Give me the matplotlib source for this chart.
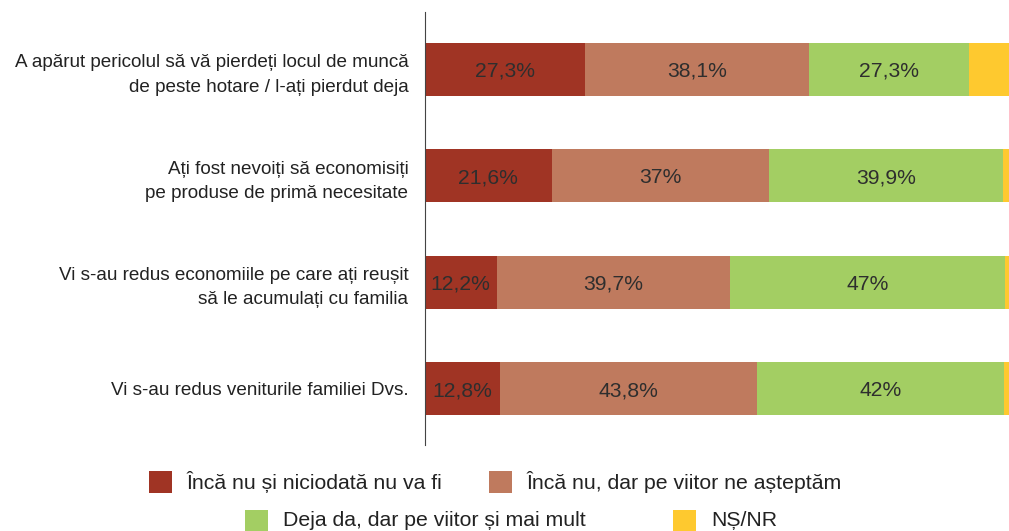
import matplotlib.pyplot as plt
from matplotlib.patches import Rectangle

plt.rcParams['font.family'] = ['Liberation Sans', 'DejaVu Sans']

# categories (top to bottom)
categories = [
    "A apărut pericolul să vă pierdeți locul de muncă\nde peste hotare / l-ați pierdut deja",
    "Ați fost nevoiți să economisiți\npe produse de primă necesitate",
    "Vi s-au redus economiile pe care ați reușit\nsă le acumulați cu familia",
    "Vi s-au redus veniturile familiei Dvs.",
]
series_names = [
    "Încă nu și niciodată nu va fi",
    "Încă nu, dar pe viitor ne așteptăm",
    "Deja da, dar pe viitor și mai mult",
    "NȘ/NR",
]
never = [27.3, 21.6, 12.2, 12.8]
not_yet = [38.1, 37.0, 39.7, 43.8]
already = [27.3, 39.9, 47.0, 42.0]
dk = [7.3, 1.5, 1.1, 1.4]
colors = ["#A03424", "#BF7A5E", "#A3CE63", "#FEC92F"]

W, H = 1009, 531
fig = plt.figure(figsize=(W / 100, H / 100), dpi=100)
ax = fig.add_axes([425 / W, 1 - 445 / H, 1 - 425 / W, (445 - 12) / H])

y = list(range(len(categories)))
left = [0.0] * len(categories)
for vals, col, name in zip([never, not_yet, already, dk], colors, series_names):
    ax.barh(y, vals, left=left, height=0.5, color=col, label=name)
    if name != "NȘ/NR":
        for i, v in enumerate(vals):
            txt = ("%.1f" % v).replace(".", ",")
            if txt.endswith(",0"):
                txt = txt[:-2]
            ax.text(left[i] + v / 2, i, txt + "%", ha="center",
                    va="center_baseline", fontsize=15.2, color="#2e2e2e")
    left = [l + v for l, v in zip(left, vals)]

ax.set_xlim(0, 99.5)
ax.set_ylim(3.53, -0.54)
ax.set_yticks(y)
ax.set_yticklabels(categories, fontsize=13.6, color="#222222", linespacing=1.55)
ax.tick_params(axis="y", length=0, pad=12)
for lab in ax.get_yticklabels():
    lab.set_verticalalignment("center_baseline")
ax.set_xticks([])
for s in ["top", "right", "bottom"]:
    ax.spines[s].set_visible(False)
ax.spines["left"].set_color("#444444")
ax.spines["left"].set_linewidth(0.8)

# legend drawn by hand to mimic the offset two-row layout
legend_pos = [(149, 482), (489, 482), (245, 521), (673, 521)]
for (px, py), col, name in zip(legend_pos, colors, series_names):
    fig.add_artist(Rectangle((px / W, 1 - (py + 11) / H), 23 / W, 22 / H,
                             transform=fig.transFigure, color=col, lw=0))
    fig.text((px + 38) / W, 1 - py / H, name, ha="left", va="center",
             fontsize=15.3, color="#222222")

fig.savefig("out.png", dpi=100)
